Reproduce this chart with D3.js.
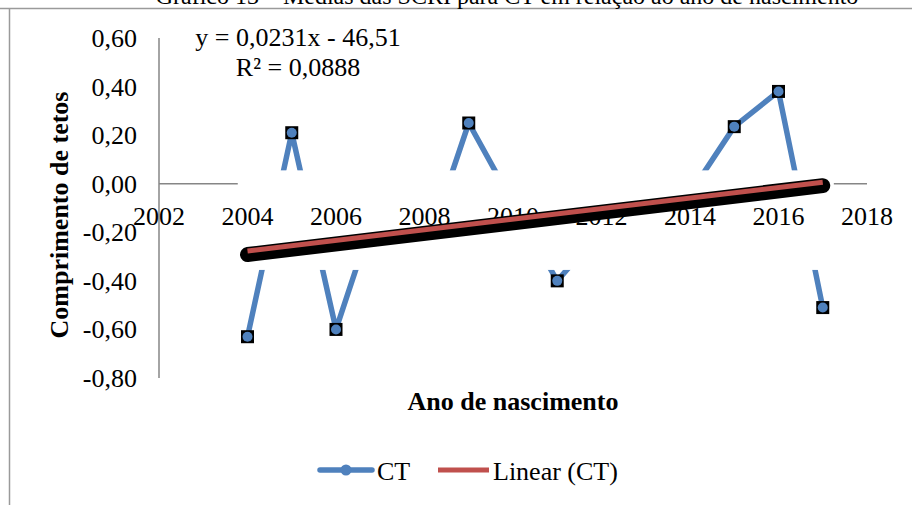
<!DOCTYPE html>
<html><head><meta charset="utf-8">
<script src="https://cdn.jsdelivr.net/npm/d3@7"></script>
<style>
html,body{margin:0;padding:0;background:#fff;}
svg{display:block;font-family:"Liberation Serif","Times New Roman",serif;}
</style></head>
<body>
<svg id="chart" width="912" height="505"></svg>
<script>
// ---- data ----
const years = [2004, 2005, 2006, 2007, 2008, 2009, 2010, 2011, 2012, 2013, 2014, 2015, 2016, 2017];
const ctValues = [-0.63, 0.21, -0.60, -0.05, -0.29, 0.25, -0.08, -0.40, -0.19, -0.18, -0.04, 0.235, 0.38, -0.51];
const xTicks = [2002, 2004, 2006, 2008, 2010, 2012, 2014, 2016, 2018];
const yTicks = [0.6, 0.4, 0.2, 0.0, -0.2, -0.4, -0.6, -0.8];
const xDomain = [2002, 2018];
const yDomain = [-0.8, 0.6];
const seriesName = "CT";
const trendName = "Linear (CT)";
const equationLines = ["y = 0,0231x - 46,51", "R\u00B2 = 0,0888"];
const titleText = "Gráfico 13 – Médias das SCRI para CT em relação ao ano de nascimento";
const xTitle = "Ano de nascimento";
const yTitle = "Comprimento de tetos";
// occluded band in data units (white box over the plot)
const bandX = [2003.78, 2017.25];
const bandY = [0.055, -0.355];

const svg = d3.select("#chart");
const x = d3.scaleLinear().domain(xDomain).range([159, 867]);
const y = d3.scaleLinear().domain(yDomain).range([378, 38]);
const fmt = v => d3.format(".2f")(v).replace("\u2212", "-").replace(".", ",");
const FS = 26;
const blue = "#4F81BD", red = "#C0504D", axisGray = "#868686";

// chart border (top and left)
svg.append("path").attr("d", "M0,8.5H912M9.5,8V505").attr("fill", "none").attr("stroke", "#9a9a9a").attr("stroke-width", 1.5);
// title (cut by the top edge, as in the source)
svg.append("text").attr("x", 507).attr("y", 4).attr("text-anchor", "middle")
  .attr("font-size", 24).attr("fill", "#000").text(titleText);

// axes lines
svg.append("line").attr("x1", x(xDomain[0])).attr("x2", x(xDomain[1])).attr("y1", y(0)).attr("y2", y(0))
  .attr("stroke", axisGray).attr("stroke-width", 1.5);
svg.append("line").attr("x1", x(xDomain[0])).attr("x2", x(xDomain[0])).attr("y1", y(yDomain[0])).attr("y2", y(yDomain[1]))
  .attr("stroke", axisGray).attr("stroke-width", 1.5);

// series line
const pts = years.map((yr, i) => [yr, ctValues[i]]);
svg.append("path").datum(pts)
  .attr("d", d3.line().x(d => x(d[0])).y(d => y(d[1])))
  .attr("fill", "none").attr("stroke", blue).attr("stroke-width", 5.5).attr("stroke-linejoin", "round");
const mk = svg.append("g").selectAll("g").data(pts).join("g")
  .attr("transform", d => `translate(${x(d[0])},${y(d[1])})`);
mk.append("rect").attr("x", -6.5).attr("y", -6.5).attr("width", 13).attr("height", 13).attr("fill", "#000");
mk.append("circle").attr("r", 5).attr("fill", blue);

// white occluding band
svg.append("rect").attr("x", x(bandX[0])).attr("y", y(bandY[0]))
  .attr("width", x(bandX[1]) - x(bandX[0])).attr("height", y(bandY[1]) - y(bandY[0])).attr("fill", "#fff");

// y tick labels
svg.append("g").selectAll("text").data(yTicks).join("text")
  .attr("x", 137).attr("y", d => y(d) + 9).attr("text-anchor", "end")
  .attr("font-size", FS).text(d => fmt(d));
// x tick labels
svg.append("g").selectAll("text").data(xTicks).join("text")
  .attr("x", d => x(d)).attr("y", y(0) + 41).attr("text-anchor", "middle")
  .attr("font-size", FS).text(d => d);

// linear trend (least squares)
const mx = d3.mean(years), my = d3.mean(ctValues);
const slope = d3.sum(years, (v, i) => (v - mx) * (ctValues[i] - my)) / d3.sum(years, v => (v - mx) ** 2);
const icpt = my - slope * mx;
const tr = [years[0], years[years.length - 1]].map(v => [v, icpt + slope * v]);
svg.append("line").attr("x1", x(tr[0][0])).attr("y1", y(tr[0][1]) + 3.5).attr("x2", x(tr[1][0])).attr("y2", y(tr[1][1]) + 3.5)
  .attr("stroke", "#000").attr("stroke-width", 15).attr("stroke-linecap", "round");
svg.append("line").attr("x1", x(tr[0][0])).attr("y1", y(tr[0][1])).attr("x2", x(tr[1][0])).attr("y2", y(tr[1][1]))
  .attr("stroke", red).attr("stroke-width", 5);

// equation
svg.append("g").selectAll("text").data(equationLines).join("text")
  .attr("x", 298).attr("y", (d, i) => 46 + i * 30).attr("text-anchor", "middle")
  .attr("font-size", FS).text(d => d);

// axis titles
svg.append("text").attr("x", 513).attr("y", 410).attr("text-anchor", "middle")
  .attr("font-size", FS).attr("font-weight", "bold").text(xTitle);
svg.append("text").attr("transform", "translate(68,215) rotate(-90)").attr("text-anchor", "middle")
  .attr("font-size", FS).attr("font-weight", "bold").text(yTitle);

// legend
const lg = svg.append("g");
lg.append("line").attr("x1", 320).attr("x2", 372).attr("y1", 470).attr("y2", 470)
  .attr("stroke", blue).attr("stroke-width", 5.5).attr("stroke-linecap", "round");
lg.append("circle").attr("cx", 346).attr("cy", 470).attr("r", 5.5).attr("fill", blue);
lg.append("text").attr("x", 377).attr("y", 480).attr("font-size", FS).text(seriesName);
lg.append("line").attr("x1", 438).attr("x2", 489).attr("y1", 470).attr("y2", 470)
  .attr("stroke", red).attr("stroke-width", 5);
lg.append("text").attr("x", 493).attr("y", 480).attr("font-size", FS).text(trendName);
</script>
</body></html>
